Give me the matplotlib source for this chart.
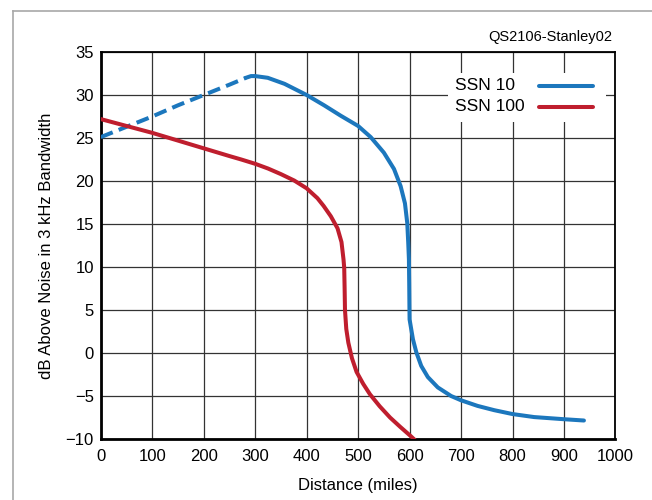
import matplotlib
matplotlib.use("Agg")
import matplotlib.pyplot as plt
from matplotlib.lines import Line2D
from matplotlib.patches import Rectangle

# data
ssn10_dash_x = [0, 50, 100, 150, 200, 250, 282]
ssn10_dash_y = [25.1, 26.3, 27.5, 28.8, 30.0, 31.2, 32.0]

ssn10_x = [282, 292, 300, 324.5, 357, 400, 434, 466, 500, 524.5, 550, 569.7, 582.6, 591,
           595.5, 597.4, 598.7, 599.3, 599.7, 600, 606.5, 613, 622.6, 635.5, 654.8, 680.6,
           700, 732, 764.5, 800, 842, 900, 938.7]
ssn10_y = [32.0, 32.2, 32.2, 32.0, 31.3, 30.0, 28.8, 27.6, 26.4, 25.1, 23.3, 21.4, 19.4, 17.4,
           15.1, 12.8, 10.9, 8.0, 5.5, 3.9, 1.6, 0.1, -1.5, -2.8, -4.0, -5.0,
           -5.5, -6.15, -6.65, -7.1, -7.45, -7.7, -7.85]

ssn100_x = [0, 50, 100, 150, 200, 250, 273, 300, 325, 350, 376, 400, 421, 433, 447, 460,
            467.7, 471.6, 473, 473.8, 474.5, 477, 481, 488, 497, 510, 523, 542, 562, 582,
            601, 610]
ssn100_y = [27.2, 26.4, 25.6, 24.7, 23.8, 22.9, 22.5, 22.0, 21.45, 20.8, 20.05, 19.15, 18.0, 17.1,
            15.9, 14.5, 12.9, 10.9, 9.9, 7.5, 5.0, 2.8, 1.2, -0.6, -2.2, -3.6, -4.8, -6.2,
            -7.5, -8.6, -9.6, -10.1]

series_labels = ["SSN 10", "SSN 100"]
x_ticks = list(range(0, 1001, 100))
y_ticks = list(range(-10, 36, 5))

blue = "#1c77bd"
red = "#bf1e2e"

plt.rcParams["font.family"] = ["Liberation Sans Narrow", "Liberation Sans", "DejaVu Sans"]

fig = plt.figure(figsize=(6.52, 5.0), dpi=100)
ax = fig.add_axes([0.1545, 0.122, 0.7895, 0.774])

ax.plot(ssn10_dash_x, ssn10_dash_y, color=blue, lw=2.9, ls=(0, (3.2, 1.6)), solid_capstyle="butt",
        zorder=3)
ax.plot(ssn10_x, ssn10_y, color=blue, lw=2.9, solid_capstyle="round", solid_joinstyle="round",
        zorder=3)
ax.plot(ssn100_x, ssn100_y, color=red, lw=2.9, solid_capstyle="round", solid_joinstyle="round",
        zorder=3)

ax.set_xlim(0, 1000)
ax.set_ylim(-10, 35)
ax.set_xticks(x_ticks)
ax.set_yticks(y_ticks)
ax.set_yticklabels([str(v).replace("-", "\u2212") for v in y_ticks])
ax.tick_params(length=0, labelsize=12)
ax.tick_params(axis="x", pad=7)
ax.tick_params(axis="y", pad=5)
ax.grid(True, color="#333333", lw=0.9)
ax.set_axisbelow(True)

for side in ["top", "right"]:
    ax.spines[side].set_linewidth(1.3)
for side in ["left", "bottom"]:
    ax.spines[side].set_linewidth(2.0)

ax.set_xlabel("Distance (miles)", fontsize=12, labelpad=10)
ax.set_ylabel("dB Above Noise in 3 kHz Bandwidth", fontsize=12, labelpad=8)

# legend drawn by hand: text on the left, line on the right, white box over the grid
def ax_x(px):
    return (px - 100.7) / 515.0

def ax_y(py):
    return (439.0 - py) / 387.0

ax.add_patch(Rectangle((ax_x(448), ax_y(122)), ax_x(606) - ax_x(448), ax_y(73) - ax_y(122),
                       transform=ax.transAxes, facecolor="white", edgecolor="none", zorder=1.5))
for label, color, py in zip(series_labels, [blue, red], [86, 106.5]):
    ax.text(ax_x(455), ax_y(py), label, transform=ax.transAxes, ha="left", va="center",
            fontsize=12.5, zorder=4)
    ax.add_line(Line2D([ax_x(539), ax_x(593)], [ax_y(py), ax_y(py)], transform=ax.transAxes,
                       color=color, lw=2.9, solid_capstyle="round", zorder=4))

fig.text(612 / 652, 1 - 37 / 500, "QS2106-Stanley02", ha="right", va="center", fontsize=10.5)

# light grey frame round the picture (left and top edges)
fig.add_artist(Line2D([13.5 / 652, 13.5 / 652], [0, 1 - 11 / 500], color="#a8a8a8", lw=1.2,
                      transform=fig.transFigure))
fig.add_artist(Line2D([13.5 / 652, 1], [1 - 11 / 500, 1 - 11 / 500], color="#a8a8a8", lw=1.2,
                      transform=fig.transFigure))

fig.savefig("out.png", dpi=100)
